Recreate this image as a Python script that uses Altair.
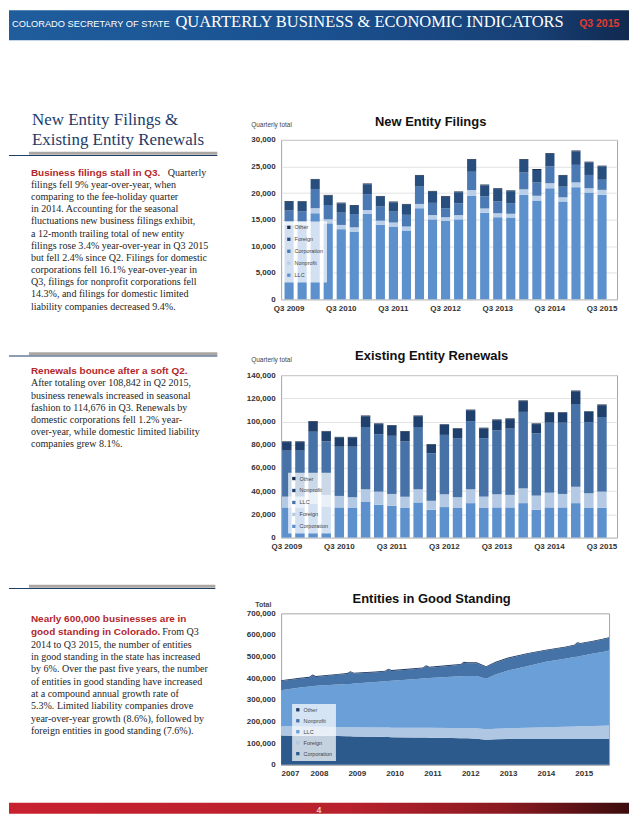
import altair as alt
import pandas as pd

# ---------------- data ----------------
quarters = ["Q3 2009", "Q4 2009", "Q1 2010", "Q2 2010", "Q3 2010", "Q4 2010",
            "Q1 2011", "Q2 2011", "Q3 2011", "Q4 2011", "Q1 2012", "Q2 2012",
            "Q3 2012", "Q4 2012", "Q1 2013", "Q2 2013", "Q3 2013", "Q4 2013",
            "Q1 2014", "Q2 2014", "Q3 2014", "Q4 2014", "Q1 2015", "Q2 2015", "Q3 2015"]

# New entity filings (quarterly totals)
new_llc = [14000, 14000, 16200, 14300, 13200, 12750, 16050, 14050, 13700, 12950, 17150, 15050,
           14800, 15050, 19450, 16300, 15450, 15400, 19650, 18600, 20900, 18400, 21100, 20100, 19650]
new_nonprofit = [650, 650, 950, 750, 800, 800, 750, 750, 750, 750, 800, 800,
                 650, 800, 1100, 800, 750, 700, 1050, 900, 950, 800, 900, 800, 950]
new_corporation = [2050, 1900, 3600, 2700, 2300, 2500, 3000, 2650, 2050, 2200, 3250, 2300,
                   1700, 2200, 3450, 2300, 2200, 2000, 3150, 2500, 3150, 2000, 3300, 2500, 1900]
new_foreign = [1650, 1750, 1750, 1750, 1750, 1550, 1850, 1850, 1750, 1900, 2050, 2100,
               2150, 2100, 2250, 2050, 2350, 2250, 2400, 2350, 2350, 2050, 2550, 2350, 2500]
new_other = [150, 150, 150, 150, 150, 150, 150, 150, 150, 150, 150, 150,
             150, 150, 150, 150, 150, 150, 150, 150, 150, 150, 150, 150, 150]

# Existing entity renewals (quarterly totals)
ren_corporation = [26000, 26000, 29100, 26900, 26000, 25500, 31100, 28300, 27400, 25500, 30300, 24000,
                   26300, 25500, 29700, 25500, 26000, 26000, 29700, 24000, 26000, 26000, 29700, 25500, 25700]
ren_foreign = [9300, 9300, 9900, 9900, 9900, 9300, 10500, 11300, 10200, 9800, 11300, 7700,
               11000, 9300, 11900, 9800, 11300, 10800, 12700, 12200, 12700, 11600, 14100, 12700, 13900]
ren_llc = [39600, 39600, 52300, 46100, 42400, 43500, 53700, 49500, 50100, 47600, 53700, 41000,
           51200, 50900, 58800, 50400, 55200, 57100, 65900, 53700, 60300, 61400, 71300, 61300, 64300]
ren_nonprofit = [7400, 7400, 8500, 8400, 7900, 7900, 9300, 8700, 8700, 8400, 9300, 7300,
                 8500, 7900, 9300, 8400, 8700, 8200, 9300, 7900, 8400, 8400, 11000, 8700, 10200]
ren_other = [600, 600, 600, 600, 600, 600, 600, 600, 600, 600, 600, 600,
             600, 600, 600, 600, 600, 600, 600, 600, 600, 600, 600, 600, 600]

# Entities in good standing (thousands)
gs_year = [2007.0, 2007.5, 2007.75, 2007.83, 2007.92, 2008.5, 2008.75, 2008.83, 2008.92,
           2009.5, 2009.75, 2009.83, 2009.92, 2010.5, 2010.75, 2010.83, 2010.92,
           2011.5, 2011.75, 2011.83, 2011.92, 2012.17, 2012.42, 2012.67,
           2013.0, 2013.5, 2014.0, 2014.5, 2014.75, 2014.83, 2014.92, 2015.25, 2015.5, 2015.67]
gs_corporation = [136, 135, 134.5, 134.5, 134, 133, 132, 132, 131, 129.5, 129, 129, 128,
                  127, 126, 126, 125.5, 124, 123.5, 123, 122.5, 121, 116, 118,
                  119, 119, 119, 119, 119.5, 120, 119.5, 119, 119, 119]
gs_foreign = [42, 42, 42, 42, 42, 42, 42.5, 42.5, 43, 43.5, 43.5, 43.5, 44,
              44.5, 45, 45, 45.5, 46.5, 46.5, 47, 47.5, 48, 48, 49,
              50, 52.5, 55, 57.5, 58, 58, 59, 61, 62, 63]
gs_llc = [167, 180, 185.5, 186.5, 189, 196, 199, 199.5, 201.5, 210, 214, 215, 217,
          224.5, 228, 229, 230, 236.5, 239.5, 240, 241, 242, 234, 251,
          267, 284.5, 302, 313.5, 320.5, 322, 324.5, 334, 341, 346]
gs_nonprofit = [42, 41, 41, 50, 41, 45, 46.5, 55, 46.5, 44, 44.5, 53, 45,
                46, 47, 56, 48, 51, 52.5, 62, 59, 59, 54, 54,
                56, 56, 52, 52, 53, 62, 56, 56, 57, 58]
gs_other = [4, 4, 4, 4, 4, 4, 4, 4, 4, 4, 4, 4, 4, 4, 4, 4, 4, 4, 4, 4, 4, 4, 4, 4,
            4, 4, 4, 4, 4, 4, 4, 4, 4, 4]
gs_years_axis = [2007, 2008, 2009, 2010, 2011, 2012, 2013, 2014, 2015]

# ---------------- texts ----------------
header_small = "COLORADO SECRETARY OF STATE"
header_title = "QUARTERLY BUSINESS & ECONOMIC INDICATORS"
header_issue = "Q3 2015"
page_number = "4"

section_title = ["New Entity Filings &", "Existing Entity Renewals"]
s1_lead = "Business filings stall in Q3."
s1_first = "Quarterly"
s1_lines = ["filings fell 9% year-over-year, when",
            "comparing to the fee-holiday quarter",
            "in 2014. Accounting for the seasonal",
            "fluctuations new business filings exhibit,",
            "a 12-month trailing total of new entity",
            "filings rose 3.4% year-over-year in Q3 2015",
            "but fell 2.4% since Q2. Filings for domestic",
            "corporations fell 16.1% year-over-year in",
            "Q3, filings for nonprofit corporations fell",
            "14.3%, and filings for domestic limited",
            "liability companies decreased 9.4%."]
s2_lead = "Renewals bounce after a soft Q2."
s2_lines = ["After totaling over 108,842 in Q2 2015,",
            "business renewals increased in seasonal",
            "fashion to 114,676 in Q3. Renewals by",
            "domestic corporations fell 1.2% year-",
            "over-year, while domestic limited liability",
            "companies grew 8.1%."]
s3_lead = ["Nearly 600,000 businesses are in", "good standing in Colorado."]
s3_first = "From Q3"
s3_lines = ["2014 to Q3 2015, the number of entities",
            "in good standing in the state has increased",
            "by 6%. Over the past five years, the number",
            "of entities in good standing have increased",
            "at a compound annual growth rate of",
            "5.3%. Limited liability companies drove",
            "year-over-year growth (8.6%), followed by",
            "foreign entities in good standing (7.6%)."]

chart_titles = ["New Entity Filings", "Existing Entity Renewals", "Entities in Good Standing"]
axis_notes = ["Quarterly total", "Quarterly total", "Total"]

# ---------------- styles ----------------
SERIF = "Liberation Serif"
SANS = "Liberation Sans"
NAVY = "#1d3c6a"
RED = "#b3272b"
BODY = "#262626"

one = pd.DataFrame({"a": [0]})


def text_block(lines, x, y0, lh, size, font=SERIF, weight="normal", color=BODY, align="left"):
    df = pd.DataFrame({"t": lines})
    df["px"] = x
    df["py"] = [y0 + i * lh for i in range(len(lines))]
    return alt.Chart(df).mark_text(
        align=align, baseline="alphabetic", font=font, fontSize=size,
        fontWeight=weight, color=color
    ).encode(
        x=alt.X("px:Q", scale=None, axis=None),
        y=alt.Y("py:Q", scale=None, axis=None),
        text="t:N",
    )


def band(x1, x2, y1, y2, color):
    return alt.Chart(one).mark_rect(color=color).encode(
        x=alt.value(x1), x2=alt.value(x2), y=alt.value(y1), y2=alt.value(y2))


def divider(y, gray_x1, x2):
    return [band(gray_x1, x2, y, y + 3, "#aaa7a2"), band(0, x2, y + 3.2, y + 4.3, "#1f3f66")]


header_grad = alt.LinearGradient(
    gradient="linear", x1=0, x2=1, y1=0, y2=0,
    stops=[alt.GradientStop(color="#1f5d9d", offset=0),
           alt.GradientStop(color="#1a5190", offset=0.5),
           alt.GradientStop(color="#173f74", offset=0.85),
           alt.GradientStop(color="#10294f", offset=1)])
footer_grad = alt.LinearGradient(
    gradient="linear", x1=0, x2=1, y1=0, y2=0,
    stops=[alt.GradientStop(color="#c8202f", offset=0),
           alt.GradientStop(color="#b8212d", offset=0.55),
           alt.GradientStop(color="#8a1a20", offset=0.8),
           alt.GradientStop(color="#3c0c0e", offset=1)])

PAGE_H = 806

left_layers = [
    alt.Chart(one).mark_rect(color=header_grad).encode(
        x=alt.value(0), x2=alt.value(622), y=alt.value(0), y2=alt.value(30)),
    text_block([header_small], 3, 17, 0, 9.3, font=SANS, color="#ffffff"),
    text_block([header_title], 167, 17, 0, 16.5, font=SERIF, color="#ffffff"),
    text_block([header_issue], 572, 17, 0, 10.5, font=SANS, weight="bold", color="#e23b2e"),
    alt.Chart(one).mark_rect(color=footer_grad).encode(
        x=alt.value(0), x2=alt.value(622), y=alt.value(795), y2=alt.value(PAGE_H)),
    text_block([page_number], 311, 805, 0, 9, font=SANS, color="#ffffff", align="center"),
    text_block(section_title, 23, 114.7, 20, 17, font=SERIF, color=NAVY),
    text_block([s1_lead], 22, 166, 0, 10, font=SANS, weight="bold", color=RED),
    text_block([s1_first], 159.3, 166, 0, 10.1),
    text_block(s1_lines, 22, 178.2, 12.2, 10.1),
    text_block([s2_lead], 22, 364.8, 0, 10, font=SANS, weight="bold", color=RED),
    text_block(s2_lines, 22, 377.3, 12.2, 10.1),
    text_block(s3_lead, 22, 614, 12.5, 10, font=SANS, weight="bold", color=RED),
    text_block([s3_first], 153.7, 626.5, 0, 10.1),
    text_block(s3_lines, 22, 639.4, 12.35, 10.1),
]
left_layers += divider(142, 20, 209)
left_layers += divider(343, 20, 209)
left_layers += divider(576.3, 20, 207)

left = alt.layer(*left_layers).properties(width=273, height=PAGE_H)


# ---------------- charts ----------------
def stack_df(cats, series, field):
    rows = []
    for k, (name, vals) in enumerate(series):
        for c, v in zip(cats, vals):
            rows.append({field: c, "type": name, "value": v, "ord": k})
    return pd.DataFrame(rows)


def small_legend(lx, ly, rowpad):
    return alt.Legend(title=None, orient="none", legendX=lx, legendY=ly, direction="vertical",
                      fillColor="rgba(255,255,255,0.72)", padding=3, symbolType="square",
                      symbolSize=11, symbolStrokeWidth=0, labelFont=SANS, labelFontSize=5.5,
                      labelColor="#444444", labelOffset=3, rowPadding=rowpad)


def annotations(title, tx, ty, note, nx, ny, note_bold=False):
    t = text_block([title], tx, ty, 0, 13, font=SANS, weight="bold", color="#111111", align="center")
    n = text_block([note], nx, ny, 0, 6.5 if not note_bold else 7, font=SANS,
                   weight="bold" if note_bold else "normal", color="#444444")
    return [t, n]


def bar_chart(df, legend_order, colors, ymax, ystep, p_in, p_out, align, lx, ly, rowpad):
    return alt.Chart(df).mark_bar().encode(
        x=alt.X("q:N", sort=quarters,
                scale=alt.Scale(paddingInner=p_in, paddingOuter=p_out, align=align),
                axis=alt.Axis(title=None, labelAngle=0, labelOverlap=False,
                              labelExpr="indexof(datum.value, 'Q3') == 0 ? datum.value : ''",
                              labelPadding=5, grid=False)),
        y=alt.Y("value:Q", stack="zero", scale=alt.Scale(domain=[0, ymax], nice=False),
                axis=alt.Axis(title=None, values=list(range(0, ymax + 1, ystep)), format=",.0f",
                              grid=True, labelPadding=6)),
        color=alt.Color("type:N",
                        scale=alt.Scale(domain=legend_order, range=[colors[k] for k in legend_order]),
                        legend=small_legend(lx, ly, rowpad)),
        order=alt.Order("ord:Q"),
    )


frame = alt.ViewBackground(stroke="#a6a6a6", strokeWidth=1)

# Chart 1
df1 = stack_df(quarters, [("LLC", new_llc), ("Nonprofit", new_nonprofit),
                          ("Corporation", new_corporation), ("Foreign", new_foreign),
                          ("Other", new_other)], "q")
colors1 = {"Other": "#182f4e", "Foreign": "#284e7e", "Corporation": "#4a79b3",
           "Nonprofit": "#b9cfe9", "LLC": "#5d91cd"}
bars1 = bar_chart(df1, ["Other", "Foreign", "Corporation", "Nonprofit", "LLC"], colors1,
                  30000, 5000, 0.3, 0.53, 0.246, 2, 82, 5)
c1 = alt.layer(bars1, *annotations(chart_titles[0], 150, -13.5, axis_notes[0], -30, -12.5)).properties(
    width=337, height=160, view=frame)

# Chart 2
df2 = stack_df(quarters, [("Corporation", ren_corporation), ("Foreign", ren_foreign),
                          ("LLC", ren_llc), ("Nonprofit", ren_nonprofit),
                          ("Other", ren_other)], "q")
colors2 = {"Other": "#152a49", "Nonprofit": "#1f406c", "LLC": "#4772a8",
           "Foreign": "#b4c9e4", "Corporation": "#5d91cd"}
bars2 = bar_chart(df2, ["Other", "Nonprofit", "LLC", "Foreign", "Corporation"], colors2,
                  140000, 20000, 0.28, 0.43, 0.084, 7, 98, 5)
c2 = alt.layer(bars2, *annotations(chart_titles[1], 151, -15, axis_notes[1], -30, -13.3)).properties(
    width=337, height=163, view=frame)

# Chart 3
df3 = stack_df(gs_year, [("Corporation", gs_corporation), ("Foreign", gs_foreign),
                         ("LLC", gs_llc), ("Nonprofit", gs_nonprofit),
                         ("Other", gs_other)], "yr")
df3["value"] = df3["value"] * 1000
colors3 = {"Other": "#1d3a62", "Nonprofit": "#4572a7", "LLC": "#6a9fd7",
           "Foreign": "#b0c7e3", "Corporation": "#2c5a8c"}
order3 = ["Other", "Nonprofit", "LLC", "Foreign", "Corporation"]
area3 = alt.Chart(df3).mark_area().encode(
    x=alt.X("yr:Q", scale=alt.Scale(domain=[2007, 2015.67], nice=False, zero=False),
            axis=alt.Axis(title=None, values=gs_years_axis, format="d", labelPadding=5, grid=False)),
    y=alt.Y("value:Q", stack="zero", scale=alt.Scale(domain=[0, 700000], nice=False),
            axis=alt.Axis(title=None, values=list(range(0, 700001, 100000)), format=",.0f",
                          grid=False, labelPadding=6)),
    color=alt.Color("type:N", scale=alt.Scale(domain=order3, range=[colors3[k] for k in order3]),
                    legend=small_legend(11, 91, 4)),
    order=alt.Order("ord:Q"),
)
c3 = alt.layer(area3, *annotations(chart_titles[2], 151, -10.3, axis_notes[2], -26, -6.3, True)).properties(
    width=329, height=152, view=frame)

spacer = alt.Chart(pd.DataFrame({"t": [""]})).mark_text().encode(text="t:N").properties(width=337, height=54)

right = alt.vconcat(spacer, c1, c2, c3, spacing=76, bounds="flush").resolve_scale(
    color="independent", x="independent", y="independent"
).resolve_legend(color="independent")

chart = alt.hconcat(left, right, spacing=0, bounds="flush").resolve_scale(
    color="independent", x="independent", y="independent"
).resolve_legend(color="independent").properties(
    padding={"left": 0, "top": 0, "right": 0, "bottom": 0}
).configure_view(stroke="transparent").configure_axis(
    labelFont=SANS, labelFontWeight="bold", labelFontSize=8, labelColor="#333333",
    domain=False, ticks=False, gridColor="#dadada", gridWidth=0.8
)

chart.save("out.html", embed_options={"renderer": "svg", "actions": False})
